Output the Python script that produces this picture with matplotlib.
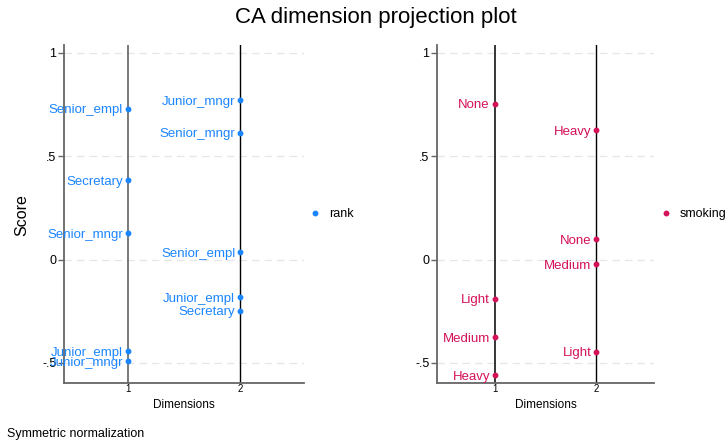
import matplotlib
matplotlib.use("Agg")
import matplotlib.pyplot as plt
from matplotlib.lines import Line2D

plt.rcParams['font.family'] = ['Liberation Sans', 'DejaVu Sans']

# rank categories
rank_dim1_labels = ["Senior_empl", "Secretary", "Senior_mngr", "Junior_empl", "Junior_mngr"]
rank_dim1_scores = [0.729, 0.385, 0.126, -0.444, -0.493]
rank_dim2_labels = ["Junior_mngr", "Senior_mngr", "Senior_empl", "Junior_empl", "Secretary"]
rank_dim2_scores = [0.770, 0.613, 0.034, -0.182, -0.247]

# smoking categories
smk_dim1_labels = ["None", "Light", "Medium", "Heavy"]
smk_dim1_scores = [0.753, -0.189, -0.375, -0.560]
smk_dim2_labels = ["Heavy", "None", "Medium", "Light"]
smk_dim2_scores = [0.626, 0.098, -0.021, -0.445]

yticks = [-0.5, 0, 0.5, 1]
ytick_labels = ["-.5", "0", ".5", "1"]
xticks = [1, 2]

BLUE = "#1a85ff"
PINK = "#d41159"

fig = plt.figure(figsize=(7.25, 4.42), dpi=100)
ax1 = fig.add_axes([64/725, 1-383/442, 240/725, 338/442])
ax2 = fig.add_axes([437/725, 1-383/442, 217/725, 338/442])

LFS = 9.5

def panel(ax, d1l, d1s, d2l, d2s, color, name, leg_x, x1color):
    ax.set_xlim(0.43, 2.57)
    ax.set_ylim(-0.597, 1.037)
    for y in yticks:
        ax.axhline(y, color="#e6e6e6", lw=0.9, ls=(0, (6, 4)), zorder=0)
    ax.axvline(1, color=x1color, lw=1.1, zorder=1)
    ax.axvline(2, color="black", lw=1.0, zorder=1)
    for xv, labs, vals in [(1, d1l, d1s), (2, d2l, d2s)]:
        ax.plot([xv]*len(vals), vals, 'o', color=color, ms=3.2, zorder=3, clip_on=False)
        for lab, v in zip(labs, vals):
            ax.annotate(lab, (xv, v), xytext=(-3.5, -LFS*0.716/2), textcoords="offset points",
                        ha="right", va="baseline", color=color, fontsize=LFS, zorder=4)
    for s in ["top", "right"]:
        ax.spines[s].set_visible(False)
    for s in ["left", "bottom"]:
        ax.spines[s].set_color("#666666")
        ax.spines[s].set_linewidth(1.3)
    ax.set_yticks(yticks)
    ax.set_yticklabels(ytick_labels)
    ax.set_xticks(xticks)
    ax.tick_params(axis="y", length=4, width=1, color="#666666", labelsize=9, pad=1.5)
    ax.tick_params(axis="x", length=0, labelsize=7, pad=1)
    ax.set_xlabel("Dimensions", fontsize=8.5, labelpad=3)
    h = Line2D([], [], marker='o', ls='none', color=color, ms=3.2)
    ax.legend([h], [name], loc="center left", bbox_to_anchor=(leg_x, 0.5), frameon=False,
              borderpad=0, borderaxespad=0, handlelength=1.0, handletextpad=0.6, fontsize=9)

panel(ax1, rank_dim1_labels, rank_dim1_scores, rank_dim2_labels, rank_dim2_scores,
      BLUE, "rank", 1.02, "#555555")
panel(ax2, smk_dim1_labels, smk_dim1_scores, smk_dim2_labels, smk_dim2_scores,
      PINK, "smoking", 1.028, "black")

fig.text(376/725, 1-18/442, "CA dimension projection plot", ha="center", va="center", fontsize=16)
fig.text(22/725, 1-215/442, "Score", rotation=90, ha="center", va="center", fontsize=11.5)
fig.text(7/725, 1-434/442, "Symmetric normalization", ha="left", va="center", fontsize=9)

fig.savefig("out.png", dpi=100)
